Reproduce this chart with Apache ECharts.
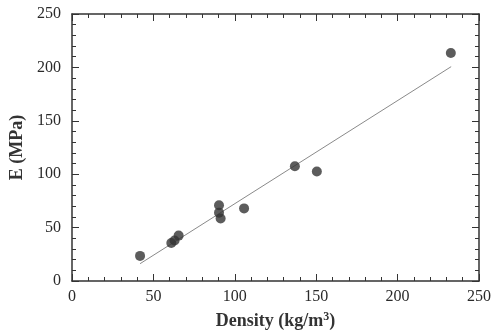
<!DOCTYPE html>
<html><head><meta charset="utf-8">
<script src="https://cdn.jsdelivr.net/npm/echarts@6/dist/echarts.min.js"></script>
<style>html,body{margin:0;padding:0;background:#fff}#c{width:500px;height:335px}</style>
</head><body><div id="c"></div>
<script>
const density = [41.8, 61, 63, 65.5, 90.3, 90.3, 91.3, 105.7, 136.9, 150.4, 232.7];
const modulus = [23.5, 35.5, 38, 42.5, 71, 64, 58.5, 68, 107.5, 102.5, 213.5];
const fitX = [41.8, 232.9];
const fitY = [16.2, 200.7];
const xTicks = [0, 50, 100, 150, 200, 250];
const yTicks = [0, 50, 100, 150, 200, 250];

const points = density.map((d, i) => [d, modulus[i]]);
const fit = fitX.map((x, i) => [x, fitY[i]]);
const font = 'Liberation Serif';
const axisCommon = {
  min: 0, max: 250, interval: 50,
  axisLine: {show: true, onZero: false, lineStyle: {color: '#333', width: 1.5}},
  axisTick: {show: true, inside: true, length: 7, lineStyle: {color: '#333'}},
  minorTick: {show: true, splitNumber: 5, length: 4, lineStyle: {color: '#333'}},
  splitLine: {show: false}
};
const chart = echarts.init(document.getElementById('c'), null, {renderer: 'canvas'});
chart.setOption({
  animation: false,
  backgroundColor: '#fff',
  grid: {left: 70, right: 21, top: 14, bottom: 54},
  xAxis: [
    Object.assign({}, axisCommon, {
      type: 'value', position: 'bottom',
      name: '{a|Density (kg/m}{s|3}{a|)}', nameLocation: 'middle', nameGap: 30,
      nameTextStyle: {fontFamily: font, fontSize: 18, fontWeight: 'bold', color: '#333',
        rich: {
          a: {fontFamily: font, fontSize: 18, fontWeight: 'bold', color: '#333'},
          s: {fontFamily: font, fontSize: 12, fontWeight: 'bold', color: '#333', verticalAlign: 'top', padding: [0, 0, 8, 0]}
        }},
      axisLabel: {fontFamily: font, fontSize: 16, color: '#2a2a2a', margin: 8,
        formatter: v => xTicks.includes(v) ? String(v) : ''}
    }),
    Object.assign({}, axisCommon, {type: 'value', position: 'top', axisLabel: {show: false}})
  ],
  yAxis: [
    Object.assign({}, axisCommon, {
      type: 'value', position: 'left',
      name: 'E (MPa)', nameLocation: 'middle', nameGap: 46,
      nameTextStyle: {fontFamily: font, fontSize: 18, fontWeight: 'bold', color: '#333'},
      axisLabel: {fontFamily: font, fontSize: 16, color: '#2a2a2a', margin: 11,
        formatter: v => yTicks.includes(v) ? String(v) : ''}
    }),
    Object.assign({}, axisCommon, {type: 'value', position: 'right', axisLabel: {show: false}})
  ],
  series: [
    {type: 'line', data: fit, symbol: 'none', lineStyle: {color: '#8a8a8a', width: 1}, z: 2},
    {type: 'scatter', data: points, symbol: 'circle', symbolSize: 10,
     itemStyle: {color: '#333'}, z: 3}
  ]
});
</script></body></html>
